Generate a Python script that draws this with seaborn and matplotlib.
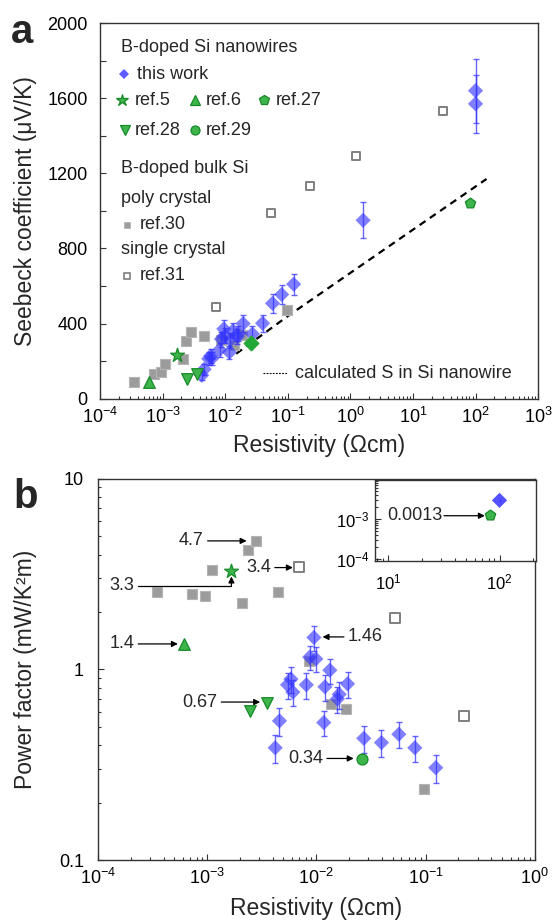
import matplotlib
matplotlib.use("Agg")
import matplotlib.pyplot as plt
import matplotlib.ticker as mticker
import seaborn as sns

# this work: B-doped Si nanowires (panel a: all, panel b: first 20)
nw_rho = [9.5e-3, 8.7e-3, 9.9e-3, 1.33e-2, 5.85e-3, 5.45e-3, 6.1e-3, 8.1e-3, 1.2e-2, 1.93e-2,
          1.62e-2, 1.56e-2, 4.6e-3, 1.17e-2, 4.2e-3, 2.72e-2, 3.95e-2, 5.7e-2, 7.98e-2, 0.124,
          1.6, 100, 100]
nw_S = [372, 318, 335, 362, 228, 213, 215, 260, 312, 400,
        346, 330, 157, 248, 125, 345, 402, 508, 555, 610,
        950, 1640, 1570]
nw_S_err = [45, 40, 40, 40, 35, 35, 35, 35, 40, 45,
            40, 40, 30, 35, 25, 40, 45, 50, 50, 55,
            95, 170, 155]
nw_pf = [1.47, 1.16, 1.135, 0.99, 0.89, 0.83, 0.76, 0.83, 0.81, 0.84,
         0.74, 0.70, 0.537, 0.526, 0.388, 0.435, 0.413, 0.457, 0.388, 0.305]
nw_pf_err = [0.22, 0.17, 0.17, 0.15, 0.14, 0.13, 0.12, 0.13, 0.13, 0.13,
             0.12, 0.11, 0.09, 0.08, 0.065, 0.07, 0.065, 0.07, 0.06, 0.05]
nw_hi_rho = [100]
nw_hi_pf = [2.9e-3]

# other nanowire references
ref5_rho, ref5_S, ref5_pf = [1.67e-3], [234], [3.27]
ref6_rho, ref6_S, ref6_pf = [6.15e-4], [92], [1.36]
ref27_rho, ref27_S = [81.8], [1044]
ref27_pf = [1.22e-3]
ref28_rho, ref28_S, ref28_pf = [2.48e-3, 3.5e-3], [105, 133], [0.603, 0.667]
ref29_rho, ref29_S, ref29_pf = [2.6e-2], [295], [0.34]

# bulk Si references
ref30_rho = [3.5e-4, 7.35e-4, 9.5e-4, 1.1e-3, 2.08e-3, 2.36e-3, 2.8e-3, 4.5e-3,
             8.6e-3, 1.36e-2, 1.87e-2, 9.7e-2]
ref30_S = [89, 133, 145, 186, 211, 308, 356, 335, 312, 287, 340, 473]
ref30_pf = [2.56, 2.49, 2.44, 3.33, 2.22, 4.25, 4.72, 2.54, 1.11, 0.66, 0.62, 0.237]
ref31_rho = [7.0e-3, 5.3e-2, 0.224, 1.21, 30]
ref31_S = [488, 988, 1135, 1294, 1534]
ref31_pf = [3.44, 1.86, 0.571]

# calculated S in Si nanowire
calc_rho = [1.5e-2, 0.1, 1, 10, 150]
calc_S = [240, 440, 670, 900, 1170]

# panel b annotations: label, arrow tail, arrow tip
ann_b = [("4.7", (1.01e-3, 4.72), (2.3e-3, 4.72)),
         ("3.4", (4.17e-3, 3.42), (6.1e-3, 3.42)),
         ("1.4", (2.34e-4, 1.36), (5.4e-4, 1.36)),
         ("0.67", (1.35e-3, 0.674), (3.06e-3, 0.674)),
         ("0.34", (1.25e-2, 0.341), (2.2e-2, 0.341))]

sns.set_theme(style="ticks")
plt.rcParams["font.family"] = ["Liberation Sans", "DejaVu Sans"]
plt.rcParams["mathtext.fontset"] = "custom"
plt.rcParams["mathtext.rm"] = "Liberation Sans"
plt.rcParams["mathtext.it"] = "Liberation Sans:italic"
plt.rcParams["mathtext.bf"] = "Liberation Sans:bold"

BLUE = "#3333FF"
GFACE = "#3DB54A"
GEDGE = "#178A28"
GRAY = "#9C9C9C"
SPINE = "#333333"


def pts(ax, x, y, marker, s, face, edge, lw=0.9, z=3, alpha=1.0):
    sns.scatterplot(x=x, y=y, ax=ax, marker=marker, s=s, color=face, edgecolor=edge,
                    linewidth=lw, zorder=z, alpha=alpha, legend=False)


def style_axes(ax):
    for sp in ax.spines.values():
        sp.set_color(SPINE)
        sp.set_linewidth(1.0)
    ax.tick_params(which="both", direction="in", color=SPINE, width=0.8,
                   labelsize=13, labelcolor="black")
    ax.tick_params(which="major", length=4.5)
    ax.tick_params(which="minor", length=2.5)
    ax.set_xscale("log")
    ax.xaxis.set_major_locator(mticker.LogLocator(base=10, numticks=20))
    ax.xaxis.set_minor_locator(mticker.LogLocator(base=10, subs=range(2, 10), numticks=20))
    ax.xaxis.set_minor_formatter(mticker.NullFormatter())


fig = plt.figure(figsize=(5.53, 9.21), dpi=100)

# ---------------- panel a ----------------
ax = fig.add_axes([0.181, 0.567, 0.792, 0.408])
style_axes(ax)
ax.set_xlim(1e-4, 1e3)
ax.set_ylim(0, 2000)
ax.yaxis.set_major_locator(mticker.MultipleLocator(400))
ax.yaxis.set_minor_locator(mticker.MultipleLocator(200))
ax.tick_params(axis="y", which="minor", length=4.5)
ax.tick_params(axis="x", pad=6)
ax.tick_params(axis="y", pad=9)

sns.lineplot(x=calc_rho, y=calc_S, ax=ax, color="black", linewidth=1.6,
             dashes=False, sort=False, zorder=2).lines[-1].set_dashes((3.2, 2.4))
pts(ax, ref30_rho, ref30_S, "s", 52, GRAY, "#B5B5B5", lw=0.8, z=2)
pts(ax, ref31_rho, ref31_S, "s", 36, "white", "#7F7F7F", lw=1.4, z=2)
ax.errorbar(nw_rho, nw_S, yerr=nw_S_err, fmt="none", ecolor=BLUE, elinewidth=1.0,
            capsize=2.5, capthick=1.0, alpha=0.75, zorder=3)
pts(ax, nw_rho, nw_S, "D", 60, BLUE, "none", lw=0, z=3, alpha=0.62)
pts(ax, ref5_rho, ref5_S, "*", 110, GFACE, GEDGE, z=4)
pts(ax, ref6_rho, ref6_S, "^", 70, GFACE, GEDGE, z=4)
pts(ax, ref27_rho, ref27_S, "p", 60, GFACE, GEDGE, z=4)
pts(ax, ref28_rho, ref28_S, "v", 70, GFACE, GEDGE, z=4)
pts(ax, ref29_rho, ref29_S, "D", 56, "#22A834", "#22A834", z=4)

ax.set_xlabel("Resistivity (\u03a9cm)", fontsize=16.5)
ax.set_ylabel("Seebeck coefficient (\u03bcV/K)", fontsize=16.5)
ax.xaxis.set_label_coords(0.5, -0.095)
ax.yaxis.set_label_coords(-0.143, 0.5)

# legend drawn as text and sample markers
T = ax.transAxes
fs = 13
ax.text(0.048, 0.934, "B-doped Si nanowires", transform=T, fontsize=fs, va="center")
ax.plot(0.055, 0.864, "D", ms=4.8, color=BLUE, alpha=0.8, mew=0, transform=T)
ax.text(0.085, 0.864, "this work", transform=T, fontsize=fs, va="center")
legend_green = [("*", 9, 0.050, 0.795, 0.080, "ref.5"),
                ("^", 7, 0.217, 0.795, 0.241, "ref.6"),
                ("p", 7, 0.374, 0.795, 0.400, "ref.27"),
                ("v", 7, 0.057, 0.715, 0.080, "ref.28"),
                ("o", 6.5, 0.217, 0.715, 0.241, "ref.29")]
for mk, ms, mx, my, tx, lab in legend_green:
    ax.plot(mx, my, mk, ms=ms, color=GFACE, mec=GEDGE, mew=0.9, transform=T)
    ax.text(tx, my, lab, transform=T, fontsize=fs, va="center")
ax.text(0.048, 0.612, "B-doped bulk Si", transform=T, fontsize=fs, va="center")
ax.text(0.048, 0.532, "poly crystal", transform=T, fontsize=fs, va="center")
ax.plot(0.062, 0.463, "s", ms=5, color=GRAY, mec="#B5B5B5", mew=0.6, transform=T)
ax.text(0.091, 0.463, "ref.30", transform=T, fontsize=fs, va="center")
ax.text(0.048, 0.396, "single crystal", transform=T, fontsize=fs, va="center")
ax.plot(0.062, 0.327, "s", ms=5, color="white", mec="#7F7F7F", mew=1.2, transform=T)
ax.text(0.091, 0.327, "ref.31", transform=T, fontsize=fs, va="center")
ax.plot([0.372, 0.427], [0.068, 0.068], color="black", lw=0.8, dashes=(1.6, 1.2), transform=T)
ax.text(0.445, 0.068, "calculated S in Si nanowire", transform=T, fontsize=fs, va="center")

# ---------------- panel b ----------------
bx = fig.add_axes([0.177, 0.0662, 0.790, 0.414])
style_axes(bx)
bx.set_yscale("log")
bx.set_xlim(1e-4, 1)
bx.set_ylim(0.1, 10)
bx.yaxis.set_major_formatter(mticker.FuncFormatter(lambda v, _: f"{v:g}"))
bx.yaxis.set_minor_formatter(mticker.NullFormatter())
bx.tick_params(axis="x", pad=6)
bx.tick_params(axis="y", pad=10)

pts(bx, ref30_rho, ref30_pf, "s", 42, GRAY, "#B5B5B5", lw=0.8, z=2)
pts(bx, ref31_rho[:3], ref31_pf, "s", 42, "white", "#7F7F7F", lw=1.4, z=2)
bx.errorbar(nw_rho[:20], nw_pf, yerr=nw_pf_err, fmt="none", ecolor=BLUE, elinewidth=1.0,
            capsize=2.5, capthick=1.0, alpha=0.75, zorder=3)
pts(bx, nw_rho[:20], nw_pf, "D", 60, BLUE, "none", lw=0, z=3, alpha=0.62)
pts(bx, ref5_rho, ref5_pf, "*", 110, GFACE, GEDGE, z=4)
pts(bx, ref6_rho, ref6_pf, "^", 70, GFACE, GEDGE, z=4)
pts(bx, ref28_rho, ref28_pf, "v", 70, GFACE, GEDGE, z=4)
pts(bx, ref29_rho, ref29_pf, "o", 62, GFACE, GEDGE, z=4)

arrow = dict(arrowstyle="-|>", color="black", lw=0.9, mutation_scale=9, shrinkA=0, shrinkB=0)
for lab, tail, tip in ann_b:
    bx.annotate("", xy=tip, xytext=tail, arrowprops=arrow)
    bx.text(tail[0] * 0.92, tail[1], lab, fontsize=13, ha="right", va="center")
# 3.3 elbow arrow to ref.5
bx.plot([2.34e-4, ref5_rho[0]], [2.75, 2.75], color="black", lw=0.9)
bx.annotate("", xy=(ref5_rho[0], 3.07), xytext=(ref5_rho[0], 2.75), arrowprops=arrow)
bx.text(2.34e-4 * 0.92, 2.75, "3.3", fontsize=13, ha="right", va="center")
# 1.46 arrow pointing left
bx.annotate("", xy=(1.14e-2, 1.48), xytext=(1.79e-2, 1.48), arrowprops=arrow)
bx.text(1.79e-2 * 1.08, 1.48, "1.46", fontsize=13, ha="left", va="center")

bx.set_xlabel("Resistivity (\u03a9cm)", fontsize=16.5)
bx.set_ylabel("Power factor (mW/K\u00b2m)", fontsize=16.5)
bx.xaxis.set_label_coords(0.5, -0.098)
bx.yaxis.set_label_coords(-0.14, 0.5)

# inset
ix = fig.add_axes([0.678, 0.391, 0.291, 0.088])
style_axes(ix)
ix.set_yscale("log")
ix.set_xlim(7.6, 212)
ix.set_ylim(9e-5, 9.4e-3)
ix.yaxis.set_minor_locator(mticker.LogLocator(base=10, subs=range(2, 10), numticks=20))
ix.yaxis.set_minor_formatter(mticker.NullFormatter())
ix.tick_params(labelsize=12)
ix.tick_params(axis="x", pad=8)
ix.tick_params(axis="y", pad=4)
ix.errorbar(nw_hi_rho, nw_hi_pf, yerr=[2e-4], fmt="none", ecolor=BLUE, elinewidth=1.0,
            capsize=0, alpha=0.8, zorder=3)
pts(ix, nw_hi_rho, nw_hi_pf, "D", 60, BLUE, "none", lw=0, z=3, alpha=0.85)
pts(ix, ref27_rho, ref27_pf, "p", 62, GFACE, GEDGE, z=4)
ix.annotate("", xy=(73.8, 1.2e-3), xytext=(31.7, 1.2e-3), arrowprops=arrow)
ix.text(31.7 * 0.97, 1.2e-3, "0.0013", fontsize=13, ha="right", va="center")

fig.text(0.02, 0.953, "a", fontsize=29, fontweight="bold")
fig.text(0.025, 0.448, "b", fontsize=29, fontweight="bold")

fig.savefig("out.png", dpi=100)
